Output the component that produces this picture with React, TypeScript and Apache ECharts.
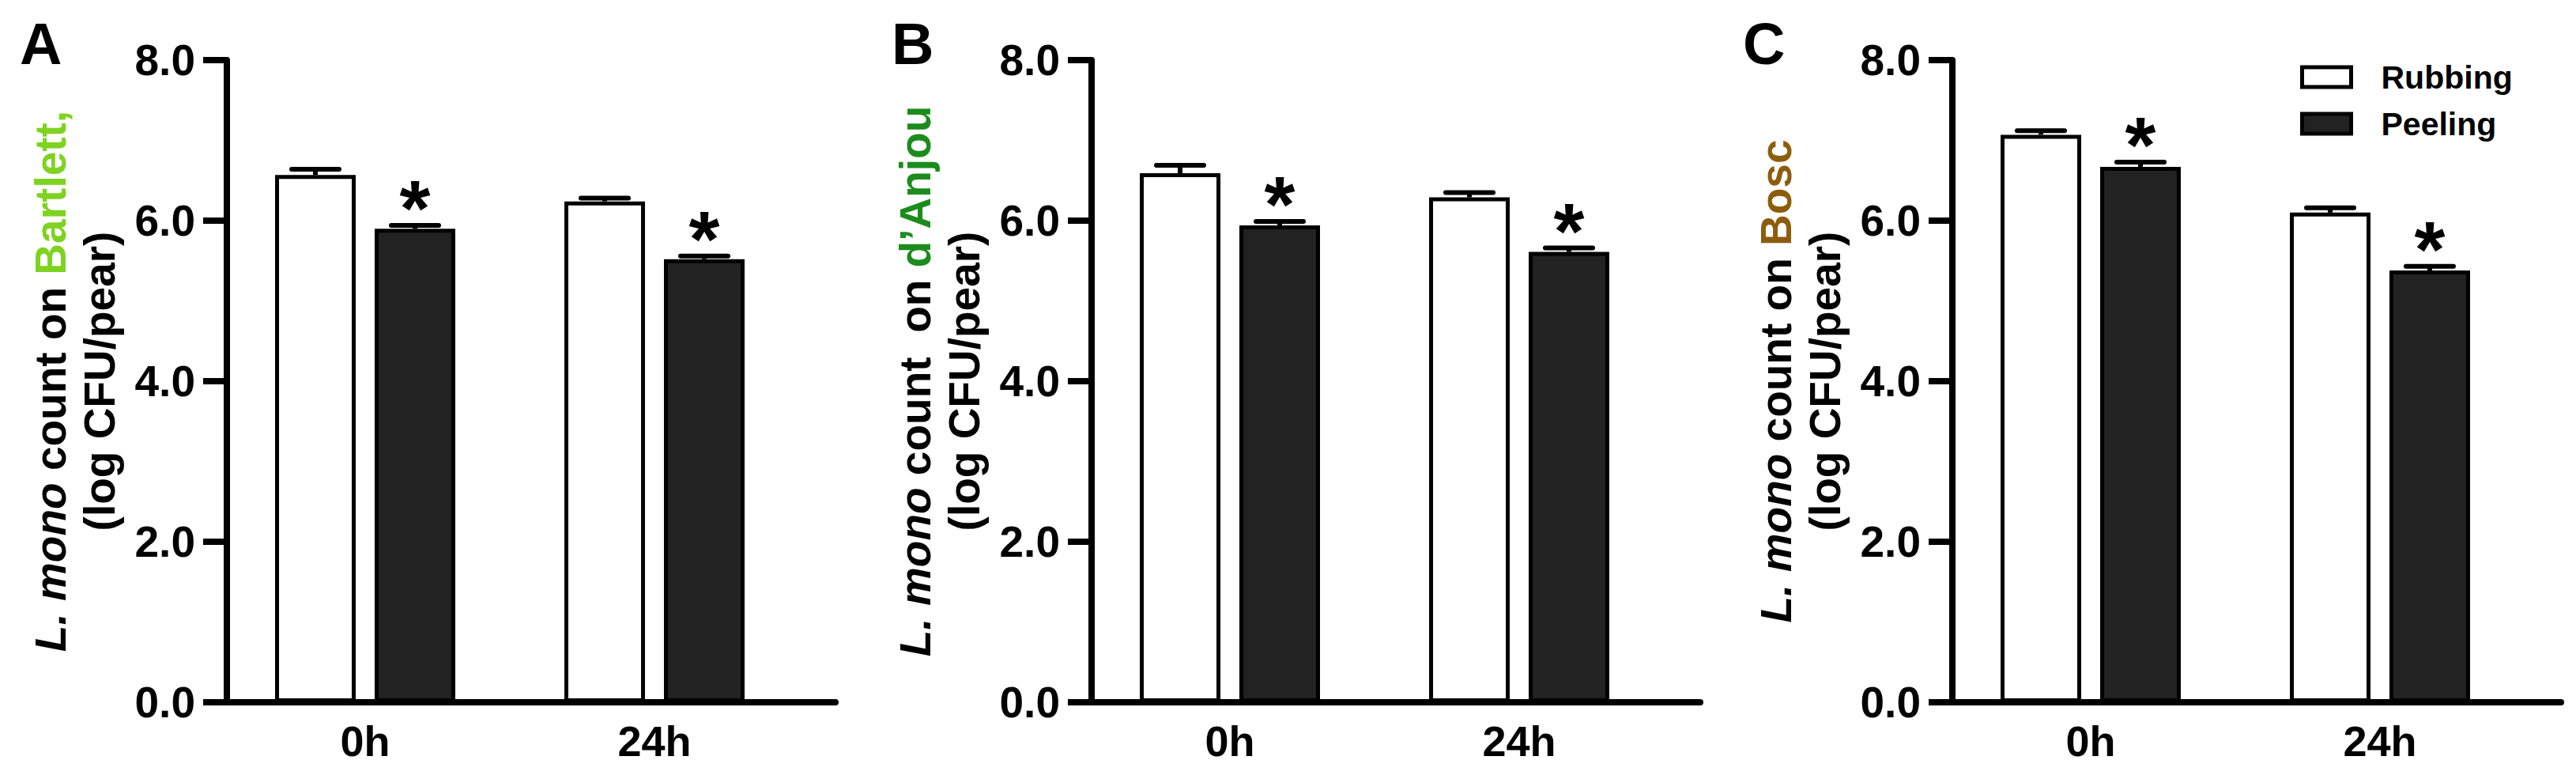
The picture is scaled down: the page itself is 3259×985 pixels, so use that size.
import React, { useEffect, useRef } from "react";
import * as echarts from "echarts";

// ---------- data ----------
const categories = ["0h", "24h"];
const seriesNames = ["Rubbing", "Peeling"];
const panelLetters = ["A", "B", "C"];
const cultivarNames = ["Bartlett,", "d\u2019Anjou", "Bosc"];
const cultivarColors = ["#7ED321", "#1C8C1C", "#8C5E0C"];
const countWord = ["count on", "count  on", "count on"];

const rubbingA = [6.57, 6.24];
const rubbingErrA = [0.07, 0.04];
const peelingA = [5.9, 5.52];
const peelingErrA = [0.04, 0.04];

const rubbingB = [6.59, 6.29];
const rubbingErrB = [0.1, 0.06];
const peelingB = [5.94, 5.61];
const peelingErrB = [0.05, 0.05];

const rubbingC = [7.07, 6.1];
const rubbingErrC = [0.05, 0.06];
const peelingC = [6.67, 5.38];
const peelingErrC = [0.06, 0.05];

const peelingSignificant = [true, true];
const yMin = 0;
const yMax = 8;
const yStep = 2;

// ---------- layout / style ----------
const FONT = "'Liberation Sans', Arial, Helvetica, sans-serif";
const GRID_TOP = 76;
const GRID_HEIGHT = 812;
const GRID_WIDTH = 770;
const GROUP_SPACING_PX = 366;
const FIRST_OFFSET_PX = 175;
const BAR_WIDTH = 102;
const BAR_GAP = 0.235;
const CAP_WIDTH = 60;
const AXIS_W = 8;
const panelLefts = [287, 1381, 2470];
const letterLefts = [25, 1128, 2205];

const panelData = [
  { r: rubbingA, re: rubbingErrA, p: peelingA, pe: peelingErrA },
  { r: rubbingB, re: rubbingErrB, p: peelingB, pe: peelingErrB },
  { r: rubbingC, re: rubbingErrC, p: peelingC, pe: peelingErrC },
];

export default function App() {
  const ref = useRef<HTMLDivElement>(null);

  useEffect(() => {
    if (!ref.current) return;
    const chart = echarts.init(ref.current, undefined, { renderer: "svg" });

    const xMin = -FIRST_OFFSET_PX / GROUP_SPACING_PX;
    const xMax = (GRID_WIDTH - FIRST_OFFSET_PX) / GROUP_SPACING_PX;
    const slot = BAR_WIDTH * (1 + BAR_GAP);

    const grids: any[] = [];
    const xAxes: any[] = [];
    const yAxes: any[] = [];
    const series: any[] = [];
    const graphics: any[] = [];

    panelData.forEach((pd, i) => {
      grids.push({ left: panelLefts[i], top: GRID_TOP, width: GRID_WIDTH, height: GRID_HEIGHT });
      xAxes.push({
        type: "value",
        gridIndex: i,
        min: xMin,
        max: xMax,
        axisLine: { show: true, onZero: false, lineStyle: { color: "#000", width: AXIS_W } },
        axisTick: { show: false },
        splitLine: { show: false },
        axisLabel: {
          show: true,
          customValues: categories.map((_, k) => k),
          formatter: (v: number) => categories[Math.round(v)] ?? "",
          fontSize: 54,
          fontWeight: "bold",
          fontFamily: FONT,
          color: "#000",
          margin: 22,
        },
      });
      yAxes.push({
        type: "value",
        gridIndex: i,
        min: yMin,
        max: yMax,
        interval: yStep,
        axisLine: { show: true, onZero: false, lineStyle: { color: "#000", width: AXIS_W } },
        axisTick: { show: true, length: 30, lineStyle: { color: "#000", width: AXIS_W } },
        splitLine: { show: false },
        axisLabel: {
          formatter: (v: number) => v.toFixed(1),
          fontSize: 55,
          fontWeight: "bold",
          fontFamily: FONT,
          color: "#000",
          margin: 40,
        },
        name: `{i|L. mono} ${countWord[i]} {g|${cultivarNames[i]}}\n(log CFU/pear)`,
        nameLocation: "middle",
        nameGap: 130,
        nameRotate: 90,
        nameTextStyle: {
          fontSize: 55,
          fontWeight: "bold",
          fontFamily: FONT,
          color: "#000",
          lineHeight: 62,
          rich: {
            i: { fontStyle: "italic", fontSize: 55, fontWeight: "bold", fontFamily: FONT, color: "#000", lineHeight: 62 },
            g: { fontSize: 55, fontWeight: "bold", fontFamily: FONT, color: cultivarColors[i], lineHeight: 62 },
          },
        },
      });

      series.push({
        name: seriesNames[0],
        type: "bar",
        xAxisIndex: i,
        yAxisIndex: i,
        barWidth: BAR_WIDTH,
        barGap: `${BAR_GAP * 100}%`,
        itemStyle: { color: "#ffffff", borderColor: "#000", borderWidth: 5 },
        data: pd.r.map((v, k) => [k, v]),
        z: 2,
      });
      series.push({
        name: seriesNames[1],
        type: "bar",
        xAxisIndex: i,
        yAxisIndex: i,
        barWidth: BAR_WIDTH,
        barGap: `${BAR_GAP * 100}%`,
        itemStyle: { color: "#222222", borderColor: "#000", borderWidth: 5 },
        data: pd.p.map((v, k) => [k, v]),
        z: 2,
      });

      const errData: any[] = [];
      pd.r.forEach((v, k) => errData.push([k, v, pd.re[k], 0, 0]));
      pd.p.forEach((v, k) => errData.push([k, v, pd.pe[k], 1, peelingSignificant[k] ? 1 : 0]));

      series.push({
        type: "custom",
        xAxisIndex: i,
        yAxisIndex: i,
        clip: false,
        z: 5,
        silent: true,
        data: errData,
        renderItem: (params: any, api: any) => {
          const cx = api.value(0);
          const mean = api.value(1);
          const err = api.value(2);
          const which = api.value(3);
          const sig = api.value(4);
          const base = api.coord([cx, mean]);
          const top = api.coord([cx, mean + err]);
          const x = base[0] + (which === 0 ? -1 : 1) * (slot / 2);
          const children: any[] = [
            { type: "line", shape: { x1: x, y1: base[1], x2: x, y2: top[1] }, style: { stroke: "#000", lineWidth: 6 } },
            {
              type: "line",
              shape: { x1: x - CAP_WIDTH / 2, y1: top[1], x2: x + CAP_WIDTH / 2, y2: top[1] },
              style: { stroke: "#000", lineWidth: 6, lineCap: "round" },
            },
          ];
          if (sig) {
            children.push({
              type: "text",
              x: x,
              y: top[1] - 22,
              style: {
                text: "*",
                fontSize: 100,
                fontWeight: "bold",
                fontFamily: FONT,
                fill: "#000",
                align: "center",
                verticalAlign: "middle",
              },
            });
          }
          return { type: "group", children };
        },
      });

      graphics.push({
        type: "text",
        left: letterLefts[i],
        top: 18,
        style: { text: panelLetters[i], fontSize: 74, fontWeight: "bold", fontFamily: FONT, fill: "#000" },
      });
    });

    chart.setOption({
      animation: false,
      backgroundColor: "#ffffff",
      grid: grids,
      xAxis: xAxes,
      yAxis: yAxes,
      series,
      graphic: graphics,
      legend: {
        data: seriesNames,
        orient: "vertical",
        left: 2905,
        top: 72,
        icon: "rect",
        itemWidth: 62,
        itemHeight: 25,
        itemGap: 18,
        itemStyle: { borderWidth: 5, borderColor: "#000" },
        textStyle: {
          fontSize: 41,
          fontWeight: "bold",
          fontFamily: FONT,
          color: "#000",
          lineHeight: 40,
          padding: [0, 0, 0, 33],
        },
        selectedMode: false,
      },
    });

    return () => chart.dispose();
  }, []);

  return (
    <div
      ref={ref}
      style={{ position: "absolute", left: 0, top: 0, width: 3259, height: 985, background: "#fff" }}
    />
  );
}
